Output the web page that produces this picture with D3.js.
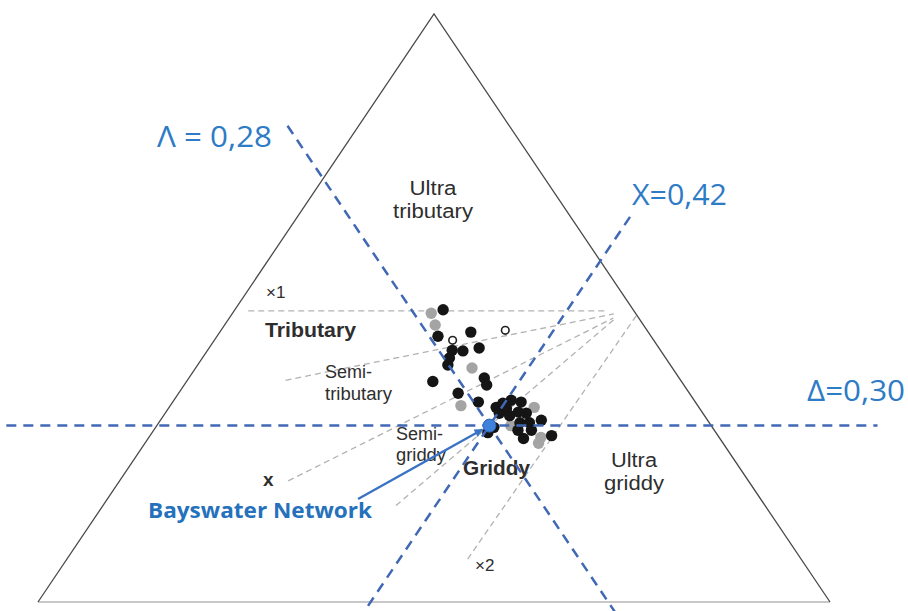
<!DOCTYPE html>
<html>
<head>
<meta charset="utf-8">
<script src="https://cdn.jsdelivr.net/npm/d3@7"></script>
<style>
  body { margin: 0; background: #fff; }
  svg { display: block; }
</style>
</head>
<body>
<svg id="chart" width="908" height="611"></svg>
<script>
// Ternary coordinates are [Λ, X, Δ]; every triple sums to 1.
// Λ = 1 at the lower-left corner, X = 1 at the lower-right corner, Δ = 1 at the apex.

const blackNetworks = [
  [0.240, 0.263, 0.497], [0.269, 0.279, 0.452], [0.224, 0.317, 0.459],
  [0.263, 0.309, 0.428], [0.250, 0.323, 0.427], [0.227, 0.341, 0.432],
  [0.273, 0.312, 0.415], [0.281, 0.316, 0.403], [0.314, 0.311, 0.375],
  [0.246, 0.373, 0.381], [0.249, 0.382, 0.369], [0.292, 0.353, 0.355],
  [0.274, 0.386, 0.340], [0.256, 0.413, 0.331], [0.244, 0.418, 0.338],
  [0.231, 0.426, 0.343], [0.220, 0.440, 0.340], [0.244, 0.427, 0.329],
  [0.257, 0.422, 0.321], [0.246, 0.437, 0.317], [0.232, 0.445, 0.323],
  [0.223, 0.456, 0.321], [0.239, 0.456, 0.305], [0.227, 0.468, 0.305],
  [0.210, 0.481, 0.309], [0.276, 0.427, 0.297], [0.288, 0.424, 0.288],
  [0.248, 0.460, 0.292], [0.248, 0.474, 0.278], [0.231, 0.477, 0.292],
  [0.210, 0.507, 0.283]
];

const greyNetworks = [
  [0.258, 0.251, 0.491], [0.263, 0.266, 0.471], [0.253, 0.349, 0.398],
  [0.299, 0.367, 0.334], [0.208, 0.461, 0.331], [0.253, 0.447, 0.300],
  [0.225, 0.495, 0.280], [0.233, 0.497, 0.270]
];

const openNetworks = [
  [0.179, 0.359, 0.462], [0.254, 0.301, 0.445]
];

// Bayswater Network and the three threshold lines through it
const lambdaValue = 0.28;
const chiValue = 0.42;
const deltaValue = 0.30;
const bayswater = [lambdaValue, chiValue, deltaValue];

const lambdaLabel = "Λ = 0,28";
const chiLabel = "X=0,42";
const deltaLabel = "Δ=0,30";
const bayswaterLabel = "Bayswater Network";

// Dashed class boundaries, each from its outer end to the common right-hand end
const classBoundaries = [
  [[0.487, 0.018, 0.495], [0.035, 0.470, 0.495]],
  [[0.499, 0.124, 0.377], [0.028, 0.482, 0.490]],
  [[0.581, 0.213, 0.206], [0.032, 0.485, 0.483]],
  [[0.466, 0.370, 0.164], [0.029, 0.488, 0.483]],
  [[0.421, 0.506, 0.073], [0.000, 0.512, 0.488]]
];

// ---------------------------------------------------------------------------

const svg = d3.select("#chart");
const blue = "#2E7BC6";
const lineBlue = "#4068B4";

const x = d3.scaleLinear().domain([0, 1]).range([38, 830]);
const y = d3.scaleLinear().domain([0, 1]).range([602, 14]);
const project = ([l, c, d]) => [x(c + d / 2), y(d)];
const line = d3.line();

// triangle frame
const cornerL = project([1, 0, 0]);
const cornerX = project([0, 1, 0]);
const apex = project([0, 0, 1]);

svg.append("path")
  .attr("d", line([cornerL, cornerX]))
  .attr("stroke", "#c8c8c8").attr("stroke-width", 1.8).attr("fill", "none");
svg.append("path")
  .attr("d", line([cornerL, apex, cornerX]))
  .attr("stroke", "#4a4a4a").attr("stroke-width", 1.3).attr("fill", "none");

// class boundaries
svg.append("g")
  .selectAll("path")
  .data(classBoundaries)
  .join("path")
  .attr("d", d => line(d.map(project)))
  .attr("stroke", "#b2b2b2")
  .attr("stroke-width", 1.3)
  .attr("stroke-dasharray", "6,4")
  .attr("fill", "none");

// class names, one text element per line
const labelLayout = [
  { text: "Ultra", x: 433, y: 195, size: 20, anchor: "middle", w: 47 },
  { text: "tributary", x: 433, y: 218, size: 20, anchor: "middle", w: 80 },
  { text: "×1", x: 266, y: 298, size: 17 },
  { text: "Tributary", x: 265, y: 337, size: 21, weight: "bold", w: 91 },
  { text: "Semi-", x: 325, y: 378, size: 18 },
  { text: "tributary", x: 325, y: 400, size: 18, w: 67 },
  { text: "Semi-", x: 396, y: 440, size: 18 },
  { text: "griddy", x: 396, y: 461, size: 18, w: 50 },
  { text: "Griddy", x: 463, y: 475, size: 21, weight: "bold", w: 67 },
  { text: "Ultra", x: 634, y: 467, size: 20, anchor: "middle", w: 46 },
  { text: "griddy", x: 634, y: 490, size: 20, anchor: "middle", w: 60 },
  { text: "x", x: 263, y: 486, size: 19, weight: "bold" },
  { text: "×2", x: 475, y: 571, size: 17 }
];

svg.append("g")
  .attr("font-family", '"Liberation Sans", Arial, Helvetica, sans-serif')
  .attr("fill", "#2e2e2e")
  .selectAll("text")
  .data(labelLayout)
  .join("text")
  .attr("x", d => d.x).attr("y", d => d.y)
  .attr("font-size", d => d.size)
  .attr("font-weight", d => d.weight || "normal")
  .attr("text-anchor", d => d.anchor || "start")
  .attr("textLength", d => d.w || null)
  .attr("lengthAdjust", d => d.w ? "spacingAndGlyphs" : null)
  .text(d => d.text);

// networks
const dots = svg.append("g");
dots.selectAll("circle.grey")
  .data(greyNetworks).join("circle").attr("class", "grey")
  .attr("cx", d => project(d)[0]).attr("cy", d => project(d)[1])
  .attr("r", 5.7).attr("fill", "#a4a4a4");
dots.selectAll("circle.black")
  .data(blackNetworks).join("circle").attr("class", "black")
  .attr("cx", d => project(d)[0]).attr("cy", d => project(d)[1])
  .attr("r", 5.7).attr("fill", "#151515");
dots.selectAll("circle.open")
  .data(openNetworks).join("circle").attr("class", "open")
  .attr("cx", d => project(d)[0]).attr("cy", d => project(d)[1])
  .attr("r", 3.8).attr("fill", "#fff").attr("stroke", "#222").attr("stroke-width", 1.6);

// threshold lines through Bayswater Network
const onLambda = d => [lambdaValue, 1 - lambdaValue - d, d];
const onChi = d => [1 - chiValue - d, chiValue, d];
const onDelta = c => [1 - c - deltaValue, c, deltaValue];

const thresholdLines = [
  [onLambda(0.81), onLambda(-0.02)],
  [onChi(0.655), onChi(-0.02)],
  [onDelta(-0.19), onDelta(0.91)]
];

svg.append("g")
  .selectAll("path")
  .data(thresholdLines)
  .join("path")
  .attr("d", d => line(d.map(project)))
  .attr("stroke", lineBlue)
  .attr("stroke-width", 2.5)
  .attr("stroke-dasharray", "10,7")
  .attr("fill", "none");

// Bayswater point
const bp = project(bayswater);
svg.append("circle")
  .attr("cx", bp[0]).attr("cy", bp[1]).attr("r", 6.5)
  .attr("fill", "#3F82DC").attr("stroke", "#2F66B8").attr("stroke-width", 1);

// threshold labels
const blueLabels = svg.append("g")
  .attr("font-family", '"Open Sans", "Noto Sans", sans-serif')
  .attr("fill", blue);

[
  { text: lambdaLabel, x: 157, y: 147, w: 115 },
  { text: chiLabel, x: 632, y: 205, w: 95 },
  { text: deltaLabel, x: 807, y: 401, w: 98 }
].forEach(t => {
  blueLabels.append("text")
    .attr("x", t.x).attr("y", t.y)
    .attr("font-size", 29)
    .attr("textLength", t.w)
    .attr("lengthAdjust", "spacingAndGlyphs")
    .text(t.text);
});

const bwText = blueLabels.append("text")
  .attr("x", 148).attr("y", 518)
  .attr("font-size", 21)
  .attr("font-weight", "bold")
  .attr("fill", "#2571BC")
  .attr("textLength", 224)
  .attr("lengthAdjust", "spacingAndGlyphs")
  .text(bayswaterLabel);

// arrow from the label to the point
svg.append("defs").append("marker")
  .attr("id", "arrowhead")
  .attr("viewBox", "0 0 10 10")
  .attr("refX", 9).attr("refY", 5)
  .attr("markerWidth", 4.2).attr("markerHeight", 3.6)
  .attr("orient", "auto")
  .append("path").attr("d", "M0,0L10,5L0,10Z").attr("fill", "#3A72C4");

const bb = bwText.node().getBBox();
const start = [bb.x + bb.width - 15, bb.y + 3];
const dx = bp[0] - start[0], dy = bp[1] - start[1];
const len = Math.hypot(dx, dy);
const end = [bp[0] - dx / len * 8, bp[1] - dy / len * 8];

svg.append("path")
  .attr("d", line([start, end]))
  .attr("stroke", "#3A72C4")
  .attr("stroke-width", 2.4)
  .attr("fill", "none")
  .attr("marker-end", "url(#arrowhead)");
</script>
</body>
</html>
